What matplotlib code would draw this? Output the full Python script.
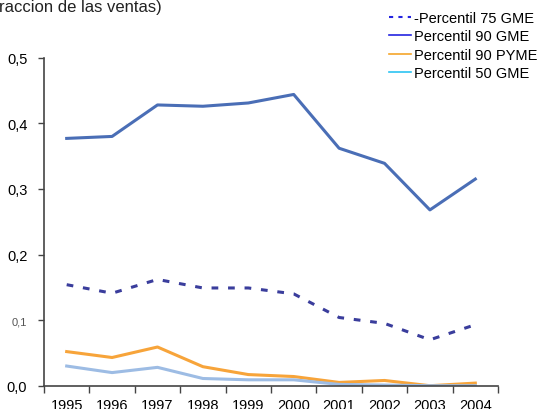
import matplotlib
matplotlib.use("Agg")
import matplotlib.pyplot as plt
from matplotlib.lines import Line2D

plt.rcParams['font.family'] = ['Liberation Sans', 'DejaVu Sans']

years = ['1995', '1996', '1997', '1998', '1999', '2000', '2001', '2002', '2003', '2004']
p75_gme = [0.154, 0.141, 0.162, 0.149, 0.149, 0.140, 0.104, 0.095, 0.070, 0.093]
p90_gme = [0.377, 0.380, 0.428, 0.426, 0.431, 0.444, 0.362, 0.339, 0.268, 0.315]
p90_pyme = [0.052, 0.043, 0.059, 0.029, 0.017, 0.014, 0.005, 0.008, 0.000, 0.004]
p50_gme = [0.030, 0.020, 0.028, 0.011, 0.009, 0.009, 0.002, 0.001, 0.000, 0.000]
y_ticks = [0.0, 0.1, 0.2, 0.3, 0.4, 0.5]
y_labels = ['0,0', '0,1', '0,2', '0,3', '0,4', '0,5']
legend_labels = ['-Percentil 75 GME', 'Percentil 90 GME', 'Percentil 90 PYME', 'Percentil 50 GME']

fig = plt.figure(figsize=(5.45, 4.10), dpi=100)
ax = fig.add_axes([0.0807, 0.0568, 0.8331, 0.8000])

x = list(range(len(years)))
ax.plot(x, p75_gme, color='#3a3d9c', lw=2.2, ls=(0, (2.2, 3.2)))
ax.plot(x, p90_gme, color='#4a6eb6', lw=2.2)
ax.plot(x, p90_pyme, color='#f7a43a', lw=2.2)
ax.plot(x, p50_gme, color='#9dbce4', lw=2.2)

ax.set_xlim(-0.5, len(years) - 0.5)
ax.set_ylim(0, 0.5)
ax.set_xticks([i - 0.5 for i in range(len(years) + 1)])
ax.set_xticklabels([])
ax.set_xticks(x, minor=True)
ax.set_xticklabels(years, minor=True, fontsize=10.5)
ax.tick_params(axis='x', which='minor', length=0, pad=9)
ax.tick_params(axis='x', which='major', length=5, width=1, color='#444444', direction='out')
ax.set_yticks(y_ticks)
ax.set_yticklabels(y_labels, fontsize=10.5)
ax.tick_params(axis='y', length=4, width=1, color='#444444', pad=8)
lab = ax.get_yticklabels()[1]
lab.set_fontsize(8)
lab.set_color('#555555')

for s in ['top', 'right']:
    ax.spines[s].set_visible(False)
for s in ['left', 'bottom']:
    ax.spines[s].set_color('#444444')
    ax.spines[s].set_linewidth(1.2)

handles = [
    Line2D([], [], color='#2424e0', lw=1.5, ls=(0, (2, 2.5))),
    Line2D([], [], color='#2424e0', lw=1.2),
    Line2D([], [], color='#f5a52a', lw=1.2),
    Line2D([], [], color='#2cc4f2', lw=1.2),
]
fig.legend(handles, legend_labels, loc='upper left', bbox_to_anchor=(0.703, 0.985),
           frameon=False, fontsize=10.5, handlelength=1.5, handletextpad=0.2,
           labelspacing=0.3, borderaxespad=0)

fig.text(-0.002, 1.0, 'raccion de las ventas)', fontsize=12, va='top', ha='left', color='#222222')

fig.savefig('out.png', dpi=100)
